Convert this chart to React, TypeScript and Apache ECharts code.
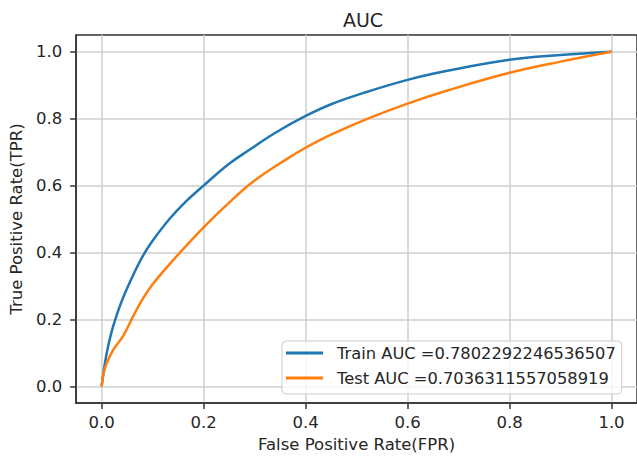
import React, { useEffect, useRef } from "react";
import * as echarts from "echarts";

const chartTitle = "AUC";
const xAxisName = "False Positive Rate(FPR)";
const yAxisName = "True Positive Rate(TPR)";
const tickValues = [0, 0.2, 0.4, 0.6, 0.8, 1.0];

const trainName = "Train AUC =0.7802292246536507";
const trainFpr = [0, 0.004, 0.01, 0.019, 0.03, 0.042, 0.062, 0.081, 0.1, 0.133, 0.165, 0.2, 0.25, 0.29, 0.34, 0.4, 0.45, 0.516, 0.6, 0.678, 0.8, 0.9, 1.0];
const trainTpr = [0, 0.045, 0.1, 0.16, 0.215, 0.265, 0.333, 0.39, 0.435, 0.5, 0.552, 0.6, 0.665, 0.707, 0.757, 0.808, 0.843, 0.878, 0.916, 0.943, 0.976, 0.99, 1.0];

const testName = "Test AUC =0.7036311557058919";
const testFpr = [0, 0.004, 0.01, 0.023, 0.042, 0.062, 0.08, 0.1, 0.139, 0.2, 0.25, 0.3, 0.366, 0.4, 0.45, 0.522, 0.6, 0.678, 0.8, 0.905, 1.0];
const testTpr = [0, 0.04, 0.07, 0.11, 0.15, 0.21, 0.26, 0.305, 0.375, 0.475, 0.549, 0.615, 0.682, 0.713, 0.752, 0.8, 0.845, 0.884, 0.937, 0.972, 1.0];

const FONT = "DejaVu Sans";
const TEXT = "#262626";
const SPINE = "#333333";
const GRIDC = "#cfcfcf";

export default function App() {
  const ref = useRef<HTMLDivElement>(null);
  useEffect(() => {
    if (!ref.current) return;
    const chart = echarts.init(ref.current, null, { renderer: "svg" });
    const axisCommon = (name: string) => ({
      type: "value",
      min: -0.05,
      max: 1.05,
      name,
      nameLocation: "middle",
      nameTextStyle: { fontFamily: FONT, fontSize: 16.5, color: TEXT },
      axisLine: { show: true, onZero: false, lineStyle: { color: SPINE, width: 1.5 } },
      axisTick: { show: true, customValues: tickValues, length: 6, inside: false, lineStyle: { color: SPINE, width: 1.5 } },
      axisLabel: {
        customValues: tickValues,
        fontFamily: FONT,
        fontSize: 16.5,
        color: TEXT,
        formatter: (v: number) => v.toFixed(1),
      },
      splitLine: { show: true, lineStyle: { color: GRIDC, width: 1.5 } },
    });
    const xa: any = axisCommon(xAxisName);
    xa.nameGap = 28;
    xa.axisLabel.margin = 11;
    const ya: any = axisCommon(yAxisName);
    ya.nameGap = 46;
    ya.axisLabel.margin = 14;

    chart.setOption({
      animation: false,
      backgroundColor: "#ffffff",
      title: {
        text: chartTitle,
        left: 358,
        top: 5,
        textAlign: "center",
        textStyle: { fontFamily: FONT, fontSize: 19, fontWeight: "normal", color: TEXT },
      },
      grid: {
        left: 76,
        top: 35,
        width: 566.5,
        height: 368.4,
        show: true,
        borderColor: SPINE,
        borderWidth: 1.5,
        backgroundColor: "transparent",
      },
      xAxis: xa,
      yAxis: ya,
      legend: {
        orient: "vertical",
        left: 282,
        top: 341,
        icon: "rect",
        itemWidth: 37,
        itemHeight: 3,
        itemGap: 5,
        padding: [2, 6, 6, 4],
        backgroundColor: "rgba(255,255,255,0.8)",
        borderColor: "#cccccc",
        borderWidth: 1,
        borderRadius: 4,
        textStyle: { fontFamily: FONT, fontSize: 16.3, color: TEXT, lineHeight: 20, padding: [0, 0, 0, 9] },
        data: [trainName, testName],
      },
      series: [
        {
          name: trainName,
          type: "line",
          symbol: "none",
          smooth: 0.4,
          color: "#1f77b4",
          lineStyle: { width: 2.5, color: "#1f77b4" },
          data: trainFpr.map((x, i) => [x, trainTpr[i]]),
        },
        {
          name: testName,
          type: "line",
          symbol: "none",
          smooth: 0.4,
          color: "#ff7f0e",
          lineStyle: { width: 2.5, color: "#ff7f0e" },
          data: testFpr.map((x, i) => [x, testTpr[i]]),
        },
      ],
    });
    return () => chart.dispose();
  }, []);
  return <div ref={ref} style={{ position: "fixed", left: 0, top: 0, width: 637, height: 458 }} />;
}
